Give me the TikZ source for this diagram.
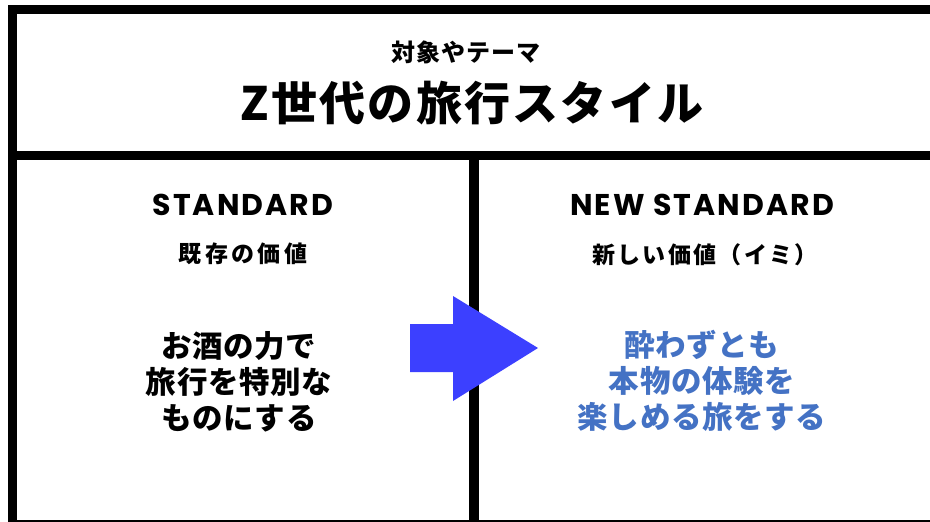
\documentclass[tikz,border=0pt]{standalone}
\usepackage{fontspec}
\setmainfont{Noto Sans CJK JP}
\newfontfamily\jpfont{Noto Sans CJK JP}
\newfontfamily\popfont{Poppins}
\definecolor{arrowblue}{RGB}{60,64,255}
\definecolor{textblue}{RGB}{68,114,196}
\begin{document}
\begin{tikzpicture}[x=1pt,y=-1pt,
  frame/.style={line width=9.5pt,black},
  small/.style={font=\jpfont\bfseries\fontsize{23}{26}\selectfont\addfontfeature{LetterSpace=15}},
  head/.style={font=\popfont\bfseries\fontsize{30}{32}\selectfont\addfontfeature{LetterSpace=7}},
  body/.style={font=\jpfont\bfseries\fontsize{30.5}{36}\selectfont\addfontfeature{LetterSpace=2}, align=center},
  inner sep=0pt]
\useasboundingbox (0,0) rectangle (930,522);
\fill[white] (0,0) rectangle (930,522);
\begin{scope}
\clip (0,0) rectangle (930,522);
\draw[frame] (12.5,9.5) rectangle (945,525);
\draw[frame] (12.5,155.5) -- (945,155.5);
\draw[frame] (474,155.5) -- (474,525);
\end{scope}
\node[font=\jpfont\bfseries\fontsize{24}{26}\selectfont\addfontfeature{LetterSpace=4}] (theme) at (466,52) {対象やテーマ};
\node[font=\jpfont\bfseries\fontsize{46}{50}\selectfont\addfontfeature{LetterSpace=5}] (title) at (472,103) {Z世代の旅行スタイル};
\node[head] (std) at (243,204.5) {STANDARD};
\node[small] (oldval) at (243,254) {既存の価値};
\node[body] (oldtext) at (239,382) {お酒の力で\\旅行を特別な\\ものにする};
\node[head] (nstd) at (702,204.5) {NEW STANDARD};
\node[small, font=\jpfont\bfseries\fontsize{23}{26}\selectfont\addfontfeature{LetterSpace=10}] (newval) at (705,255) {新しい価値（イミ）};
\node[body, text=textblue] (newtext) at (702,381) {酔わずとも\\本物の体験を\\楽しめる旅をする};
\fill[arrowblue] (410,324) -- (453,324) -- (453,296) -- (538,348) -- (453,401) -- (453,372) -- (410,372) -- cycle;
\end{tikzpicture}
\end{document}
